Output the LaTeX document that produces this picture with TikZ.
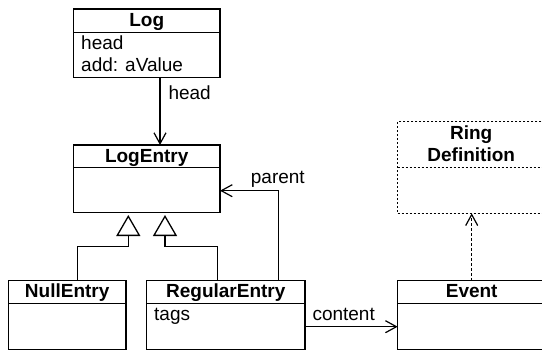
\documentclass[tikz,border=0pt]{standalone}
\usepackage{fontspec}
\setmainfont{Liberation Sans}
\usetikzlibrary{arrows.meta}
\tikzset{
  box/.style={draw, line width=1.3pt, rectangle, anchor=north west, inner sep=0pt, outer sep=0pt},
  dotbox/.style={box, dash pattern=on 2pt off 2pt},
  sep/.style={line width=1.3pt},
  dotsep/.style={line width=1.3pt, dash pattern=on 2pt off 2pt},
  ttl/.style={font=\fontsize{19}{22}\selectfont\bfseries, anchor=base, inner sep=0pt},
  txt/.style={font=\fontsize{19}{22}\selectfont, anchor=base west, inner sep=0pt},
  arr/.style={line width=1.3pt, -{Straight Barb[length=11pt,width=12pt,line width=1.2pt]}},
  darr/.style={arr, dash pattern=on 2.5pt off 2.5pt},
  gen/.style={line width=1.3pt, -{Triangle[open,length=21pt,width=24pt,line width=1.3pt]}},
}
\begin{document}
\begin{tikzpicture}[x=1pt,y=-1pt]
\useasboundingbox (0,0) rectangle (542,349);
\clip (0,0) rectangle (542,349);
% boxes
\node[box, minimum width=146.7pt, minimum height=68.7pt] (Log) at (73.3,9) {};
\draw[sep] (73.3,32.3) -- (220,32.3);
\node[ttl] (LogT) at (146.7,26.5) {Log};
\node[txt] (LogA1) at (81,49.3) {head};
\node[txt] (LogA2) at (81,71.7) {add: aValue};

\node[box, minimum width=146.7pt, minimum height=67.7pt] (LogEntry) at (73.3,145) {};
\draw[sep] (73.3,167.3) -- (220,167.3);
\node[ttl] (LogEntryT) at (146.7,162.3) {LogEntry};

\node[box, minimum width=117.7pt, minimum height=69pt] (NullEntry) at (8.3,280.5) {};
\draw[sep] (8.3,303.3) -- (126,303.3);
\node[ttl] (NullEntryT) at (67.2,297.7) {NullEntry};

\node[box, minimum width=158.3pt, minimum height=69pt] (RegularEntry) at (146.7,280.5) {};
\draw[sep] (146.7,303.3) -- (305,303.3);
\node[ttl] (RegularEntryT) at (225.8,297.7) {RegularEntry};
\node[txt] (RegA1) at (154,320) {tags};

\node[box, minimum width=148pt, minimum height=69pt] (Event) at (397.7,280.5) {};
\draw[sep] (397.7,303.3) -- (545.7,303.3);
\node[ttl] (EventT) at (471.7,297.7) {Event};

\node[dotbox, minimum width=148pt, minimum height=91.6pt] (Ring) at (397.7,121.7) {};
\draw[dotsep] (397.7,167.7) -- (545.7,167.7);
\node[ttl] (RingT1) at (471.2,139.3) {Ring};
\node[ttl] (RingT2) at (471.2,161.7) {Definition};

% helper coordinates
\coordinate (hx) at (160,0);
\coordinate (px) at (278.3,190.7);
\coordinate (t1) at (128.3,215);
\coordinate (t1b) at (128.3,246.7);
\coordinate (t2) at (165,215);
\coordinate (t2b) at (165,246.7);
\coordinate (n1) at (77.3,0);
\coordinate (r1) at (217.3,0);
\coordinate (cy) at (0,326.7);
\coordinate (rx) at (471.7,0);

% connectors
\draw[arr] (Log.south -| hx) -- (LogEntry.north -| hx);
\node[txt] (headL) at (168.3,99) {head};

\draw[arr] (RegularEntry.north -| px) -- (px) -- (LogEntry.east |- px);
\node[txt] (parentL) at (250.7,183) {parent};

\draw[gen] (NullEntry.north -| n1) |- (t1b) -- (t1);
\draw[gen] (RegularEntry.north -| r1) |- (t2b) -- (t2);

\draw[arr] (RegularEntry.east |- cy) -- (Event.west |- cy);
\node[txt] (contentL) at (312.3,320) {content};

\draw[darr] (Event.north -| rx) -- (Ring.south -| rx);
\end{tikzpicture}
\end{document}
